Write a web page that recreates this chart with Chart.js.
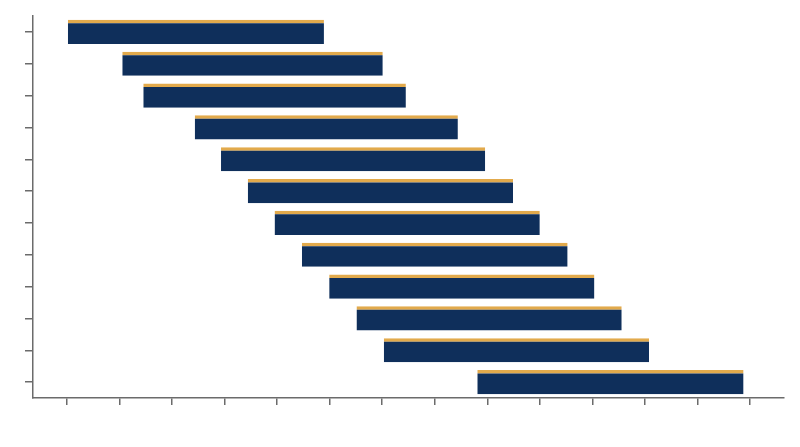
<!DOCTYPE html>
<html>
<head>
<meta charset="utf-8">
<script src="https://cdn.jsdelivr.net/npm/chart.js@4"></script>
<style>
  html, body { margin: 0; padding: 0; background: #fff; }
  #wrap { width: 800px; height: 447px; }
</style>
</head>
<body>
<div id="wrap"><canvas id="chart"></canvas></div>
<script>
const tasks = ["1", "2", "3", "4", "5", "6", "7", "8", "9", "10", "11", "12"]
const starts = [0, 1.05, 1.45, 2.43, 2.93, 3.44, 3.95, 4.47, 4.99, 5.51, 6.03, 7.81]
const ends = [4.89, 6.01, 6.45, 7.44, 7.96, 8.49, 9.0, 9.53, 10.04, 10.56, 11.08, 12.88]
const xTicks = [0, 1, 2, 3, 4, 5, 6, 7, 8, 9, 10, 11, 12, 13]

const navy = "#0f2f5b"
const gold = "#e2aa4c"
const axisGrey = "#6b6b6b"

new Chart(document.getElementById("chart"), {
   type: "bar",
   data: {
      labels: tasks,
      datasets: [{
         data: starts.map((s, i) => [s, ends[i]]),
         backgroundColor: navy,
         borderColor: gold,
         borderWidth: { top: 3.5, right: 0, bottom: 0, left: 0 },
         borderSkipped: false,
         categoryPercentage: 1,
         barPercentage: 0.76,
      }]
   },
   options: {
      indexAxis: "y",
      responsive: true,
      maintainAspectRatio: false,
      animation: false,
      layout: {
         padding: { left: 25, right: 16, top: 16, bottom: 42 }
      },
      plugins: {
         legend: { display: false },
         tooltip: { enabled: false }
      },
      scales: {
         x: {
            type: "linear",
            min: -0.65,
            max: 13.65,
            afterBuildTicks: axis => {
               axis.ticks = xTicks.map(v => ({ value: v }))
            },
            grid: {
               drawOnChartArea: false,
               drawTicks: true,
               tickLength: 7,
               color: axisGrey,
               lineWidth: 1.5,
            },
            border: { display: true, color: axisGrey, width: 1.5 },
            ticks: { display: false }
         },
         y: {
            grid: {
               drawOnChartArea: false,
               drawTicks: true,
               tickLength: 8,
               color: axisGrey,
               lineWidth: 1.5,
               offset: false,
            },
            border: { display: true, color: axisGrey, width: 1.5 },
            ticks: { display: false }
         }
      }
   }
})
</script>
</body>
</html>
